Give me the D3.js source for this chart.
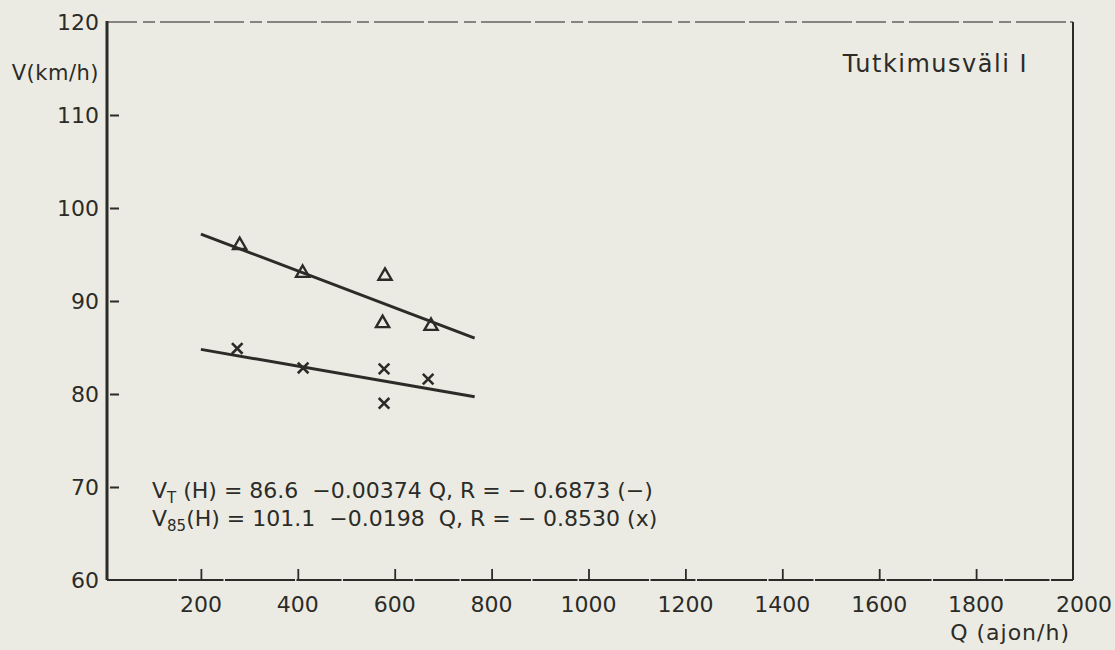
<!DOCTYPE html>
<html>
<head>
<meta charset="utf-8">
<script src="https://cdn.jsdelivr.net/npm/d3@7"></script>
<style>
  html, body { margin: 0; padding: 0; background: #ebebe3; }
  svg { display: block; }
  text { font-family: 'DejaVu Sans', sans-serif; fill: #2b2b28; }
</style>
</head>
<body>
<div id="chart"></div>
<script>
// values
const yTicks = [60, 70, 80, 90, 100, 110, 120];
const xTicks = [200, 400, 600, 800, 1000, 1200, 1400, 1600, 1800, 2000];

const triangleQ = [280, 410, 580, 575, 675];
const triangleV = [96.0, 93.0, 92.7, 87.6, 87.3];
const crossQ = [275, 411, 578, 669, 578];
const crossV = [84.9, 82.8, 82.7, 81.6, 79.0];

const lineQ = [200, 765];
const upperLineV = [97.2, 86.0];
const lowerLineV = [84.8, 79.7];

const WIDTH = 1115;
const HEIGHT = 650;
const INK = '#2b2b28';

const svg = d3.select('#chart').append('svg')
  .attr('width', WIDTH)
  .attr('height', HEIGHT);

const x = d3.scaleLinear().domain([0, 2000]).range([104, 1073]);
const y = d3.scaleLinear().domain([60, 120]).range([580, 22]);

const plotLeft = 107;
const plotRight = x(2000);
const plotTop = y(120);
const plotBottom = y(60);

// frame: top edge is faint and broken in the scan
svg.append('line')
  .attr('x1', plotLeft).attr('x2', plotRight).attr('y1', plotTop).attr('y2', plotTop)
  .attr('stroke', INK).attr('stroke-width', 1.6)
  .attr('stroke-dasharray', '30 6 12 5 50 4')
  .attr('opacity', 0.7);
svg.append('line')
  .attr('x1', plotRight).attr('x2', plotRight).attr('y1', plotTop).attr('y2', plotBottom)
  .attr('stroke', INK).attr('stroke-width', 2);

// y axis, ticks pointing inward
const yAxis = svg.append('g')
  .attr('transform', `translate(${plotLeft},0)`)
  .call(d3.axisRight(y).tickValues(yTicks).tickSize(12).tickFormat(''));
yAxis.select('.domain').remove();
yAxis.selectAll('.tick line')
  .attr('stroke', INK).attr('stroke-width', 2)
  .attr('x1', 3)
  .filter((d) => d === 60 || d === 120).remove();
svg.append('line')
  .attr('x1', plotLeft).attr('x2', plotLeft).attr('y1', plotTop - 1).attr('y2', plotBottom)
  .attr('stroke', INK).attr('stroke-width', 3);

svg.append('g').selectAll('text')
  .data(yTicks)
  .join('text')
  .attr('x', 99)
  .attr('y', (d) => y(d))
  .attr('dy', '0.36em')
  .attr('text-anchor', 'end')
  .style('font-size', '22px')
  .text((d) => d);

// x axis, ticks pointing up
const xAxis = svg.append('g')
  .attr('transform', `translate(0,${plotBottom})`)
  .call(d3.axisTop(x).tickValues(xTicks.filter((d) => d < 2000)).tickSize(11).tickFormat(''));
xAxis.select('.domain').remove();
xAxis.selectAll('.tick line').attr('stroke', INK).attr('stroke-width', 1.8);
svg.append('line')
  .attr('x1', plotLeft).attr('x2', plotRight).attr('y1', plotBottom).attr('y2', plotBottom)
  .attr('stroke', INK).attr('stroke-width', 2)
  .attr('stroke-dasharray', '70 1.5 45 1.5');

svg.append('g').selectAll('text')
  .data(xTicks)
  .join('text')
  .attr('x', (d) => x(d) + (d === 2000 ? 11 : 0))
  .attr('y', 604)
  .attr('dy', '0.36em')
  .attr('text-anchor', 'middle')
  .style('font-size', '22px')
  .text((d) => d);

// axis titles
svg.append('text')
  .attr('x', 99).attr('y', 72).attr('dy', '0.36em')
  .attr('text-anchor', 'end')
  .style('font-size', '21px')
  .style('letter-spacing', '0.5px')
  .text('V(km/h)');
svg.append('text')
  .attr('x', 1070).attr('y', 632).attr('dy', '0.36em')
  .attr('text-anchor', 'end')
  .style('font-size', '22px')
  .style('letter-spacing', '1px')
  .text('Q (ajon/h)');

svg.append('text')
  .attr('x', 1028).attr('y', 63).attr('dy', '0.36em')
  .attr('text-anchor', 'end')
  .style('font-size', '24px')
  .style('letter-spacing', '1.5px')
  .text('Tutkimusväli I');

// regression lines
const line = d3.line().x((d) => x(d[0])).y((d) => y(d[1]));
[upperLineV, lowerLineV].forEach((vals) => {
  svg.append('path')
    .datum(lineQ.map((q, i) => [q, vals[i]]))
    .attr('d', line)
    .attr('fill', 'none')
    .attr('stroke', INK)
    .attr('stroke-width', 3);
});

// triangles
const tri = d3.symbol().type(d3.symbolTriangle).size(75);
svg.append('g').selectAll('path')
  .data(triangleQ.map((q, i) => [q, triangleV[i]]))
  .join('path')
  .attr('d', tri)
  .attr('transform', (d) => `translate(${x(d[0])},${y(d[1])})`)
  .attr('fill', 'none')
  .attr('stroke', INK)
  .attr('stroke-width', 2.4);

// crosses
const cross = d3.symbol().type(d3.symbolX).size(75);
svg.append('g').selectAll('path')
  .data(crossQ.map((q, i) => [q, crossV[i]]))
  .join('path')
  .attr('d', cross)
  .attr('transform', (d) => `translate(${x(d[0])},${y(d[1])})`)
  .attr('fill', 'none')
  .attr('stroke', INK)
  .attr('stroke-width', 2.6);

// regression equations
const eq = svg.append('g').style('font-size', '22px');
const l1 = eq.append('text').attr('x', 152).attr('y', 490).attr('dy', '0.36em').attr('xml:space', 'preserve');
l1.append('tspan').text('V');
l1.append('tspan').attr('dy', 5).style('font-size', '15px').text('T');
l1.append('tspan').attr('dy', -5).text(' (H) = 86.6  \u22120.00374 Q, R = \u2212 0.6873 (\u2212)');

const l2 = eq.append('text').attr('x', 152).attr('y', 518).attr('dy', '0.36em').attr('xml:space', 'preserve');
l2.append('tspan').text('V');
l2.append('tspan').attr('dy', 5).style('font-size', '15px').text('85');
l2.append('tspan').attr('dy', -5).text('(H) = 101.1  \u22120.0198  Q, R = \u2212 0.8530 (x)');
</script>
</body>
</html>
